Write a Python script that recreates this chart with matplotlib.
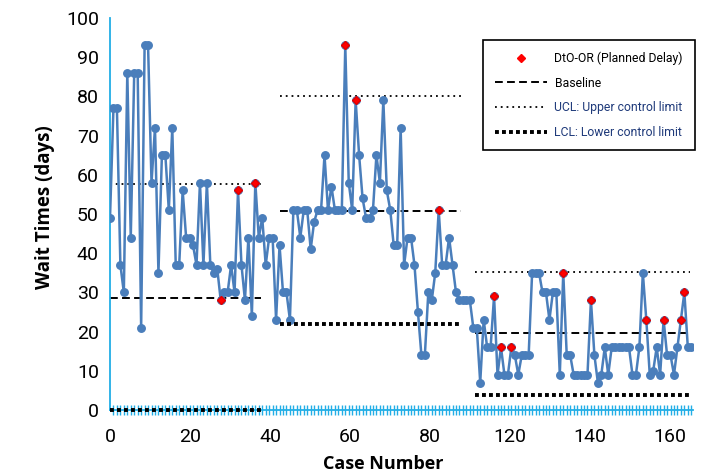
import matplotlib
matplotlib.use("Agg")
import matplotlib.pyplot as plt
from matplotlib.lines import Line2D

# ---------------- data ----------------
wait_days = [49, 77, 77, 37, 30, 86, 44, 86, 86, 21,
             93, 93, 58, 72, 35, 65, 65, 51, 72, 37,
             37, 56, 44, 44, 42, 37, 58, 37, 58, 37,
             35, 36, 28, 30, 30, 37, 30, 56, 37, 28,
             44, 24, 58, 44, 49, 37, 44, 44, 23, 42,
             30, 30, 23, 51, 51, 44, 51, 51, 41, 48,
             51, 51, 65, 51, 57, 51, 51, 51, 93, 58,
             51, 79, 65, 54, 49, 49, 51, 65, 58, 79,
             56, 51, 42, 42, 72, 37, 44, 44, 37, 25,
             14, 14, 30, 28, 35, 51, 37, 37, 44, 37,
             30, 28, 28, 28, 28, 21, 21, 7, 23, 16,
             16, 29, 9, 16, 9, 9, 16, 14, 9, 14,
             14, 14, 35, 35, 35, 30, 30, 23, 30, 30,
             9, 35, 14, 14, 9, 9, 9, 9, 9, 28,
             14, 7, 9, 16, 9, 16, 16, 16, 16, 16,
             16, 9, 9, 16, 35, 23, 9, 10, 16, 9,
             23, 14, 14, 9, 16, 23, 30, 16, 16]
planned_delay_idx = [32, 37, 42, 68, 71, 95, 111, 113, 116, 131, 139, 155, 160, 165, 166]

# control-chart phases: (start case, end case, baseline, UCL, LCL)
phase_start = [0, 49, 105.5]
phase_end = [43.5, 101.5, 167.6]
baseline = [28.5, 50.8, 19.6]
ucl = [57.6, 80.1, 35.3]
lcl = [0.0, 21.9, 3.7]

x_tick_labels = ["0", "20", "40", "60", "80", "120", "140", "160"]
y_ticks = [0, 10, 20, 30, 40, 50, 60, 70, 80, 90, 100]

# ---------------- fonts ----------------
plt.rcParams["font.family"] = ["Roboto", "DejaVu Sans"]
label_family = ["Open Sans", "Roboto", "DejaVu Sans"]

W, H = 709, 474
fig = plt.figure(figsize=(W / 100, H / 100), dpi=100)
ax = fig.add_axes([110 / W, 1 - 410 / H, (693 - 110) / W, (410 - 18) / H])

blue = "#4A7EBB"
axis_blue = "#22AEE6"
navy = "#1F3A7A"

x = list(range(len(wait_days)))
ax.plot(x, wait_days, color=blue, lw=1.8, marker="o", markersize=5.4,
        markerfacecolor=blue, markeredgecolor=blue, zorder=3)
ax.plot(planned_delay_idx, [wait_days[i] for i in planned_delay_idx], linestyle="none",
        marker="D", markersize=3.8, color="#FF0000", markeredgecolor="#E00000", zorder=4)

for s, e, b, u, l in zip(phase_start, phase_end, baseline, ucl, lcl):
    ax.plot([s, e], [b, b], color="black", lw=1.4, linestyle=(0, (4, 2.2)), zorder=2)
    ax.plot([s, e], [u, u], color="black", lw=1.3, linestyle=(0, (1, 2.2)), zorder=2)
    ax.plot([s, e], [l, l], color="black", lw=2.8, linestyle=(0, (1, 0.8)), zorder=5, clip_on=False)

ax.set_xlim(0, (693 - 110) / 3.46)
ax.set_ylim(0, 100)

ax.set_xticks([i * 80 / 3.46 for i in range(len(x_tick_labels))])
ax.set_xticklabels(x_tick_labels)
ax.set_xticks(list(range(0, 169)), minor=True)
ax.set_yticks(y_ticks)
ax.tick_params(axis="x", which="major", length=0, pad=13, labelsize=14)
ax.tick_params(axis="x", which="minor", length=7, width=1, direction="inout", color=axis_blue)
ax.tick_params(axis="y", length=0, pad=8, labelsize=14)

for sp in ["top", "right"]:
    ax.spines[sp].set_visible(False)
ax.spines["left"].set_color(axis_blue)
ax.spines["bottom"].set_color(axis_blue)
ax.spines["left"].set_linewidth(1.3)
ax.spines["bottom"].set_linewidth(1.3)

fig.text(45 / W, 1 - 207 / H, "Wait Times (days)", rotation=90, ha="center", va="center",
         fontsize=13.5, fontweight="bold", family=label_family)
fig.text(383 / W, 1 - 464 / H, "Case Number", ha="center", va="center",
         fontsize=13, fontweight="bold", family=label_family)

handles = [
    Line2D([], [], linestyle="none", marker="D", markersize=3.8, color="#FF0000"),
    Line2D([], [], color="black", lw=1.4, linestyle=(0, (4, 2.2))),
    Line2D([], [], color="black", lw=1.3, linestyle=(0, (1, 2.2))),
    Line2D([], [], color="black", lw=2.8, linestyle=(0, (1, 0.8))),
]
labels = ["DtO-OR (Planned Delay)", "Baseline", "UCL: Upper control limit", "LCL: Lower control limit"]
leg = ax.legend(handles, labels, loc="upper left", bbox_to_anchor=(483 / W, 1 - 40 / H),
                bbox_transform=fig.transFigure, fontsize=8.8, frameon=True, fancybox=False,
                edgecolor="black", framealpha=1, borderaxespad=0, handlelength=4.3,
                handletextpad=0.6, labelspacing=0.95, borderpad=0.95)
leg.get_frame().set_linewidth(1.2)
for t, c in zip(leg.get_texts(), ["black", "black", navy, navy]):
    t.set_color(c)

fig.savefig("out.png", dpi=100)
